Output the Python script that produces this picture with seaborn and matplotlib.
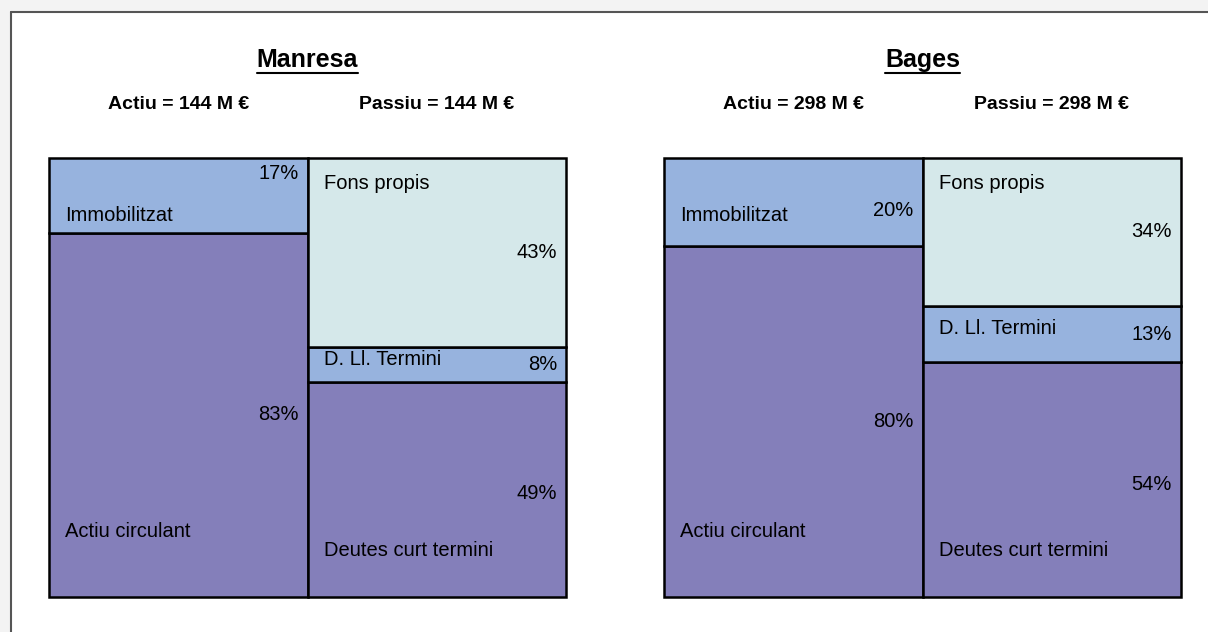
import numpy as np
import matplotlib
matplotlib.use("Agg")
import matplotlib.pyplot as plt
import seaborn as sns
from matplotlib.lines import Line2D
from matplotlib.patches import Rectangle

sns.set_style("white")
plt.rcParams['font.family'] = ['Liberation Sans', 'DejaVu Sans']
plt.rcParams['text.color'] = 'black'

# data (percent of balance)
regions = ["Manresa", "Bages"]
totals = [144, 298]
immobilitzat = [17, 20]
actiu_circulant = [83, 80]
fons_propis = [43, 34]
deutes_llarg = [8, 13]
deutes_curt = [49, 54]
sides = ["Actiu", "Passiu"]

c_purple = "#847FBA"
c_blue = "#97B3DE"
c_pale = "#D5E8EA"

W, H = 1208, 632
fig = plt.figure(figsize=(W / 100, H / 100), dpi=100)

# outer frame like the spreadsheet snapshot
fig.patches.append(Rectangle((0, 1 - 12 / H), 1, 12 / H, transform=fig.transFigure,
                             facecolor="#F3F3F3", edgecolor="none", zorder=0))
fig.patches.append(Rectangle((0, 0), 11 / W, 1, transform=fig.transFigure,
                             facecolor="#F3F3F3", edgecolor="none", zorder=0))
fig.lines.append(Line2D([11 / W, 1], [1 - 12 / H, 1 - 12 / H], transform=fig.transFigure,
                        color="#555555", lw=1.5))
fig.lines.append(Line2D([11 / W, 11 / W], [0, 1 - 12 / H], transform=fig.transFigure,
                        color="#555555", lw=1.5))

lefts = [49, 664]
titles = []
for i, reg in enumerate(regions):
    ax = fig.add_axes([lefts[i] / W, 1 - 597 / H, 517 / W, 439 / H])
    ax.set_xlim(0, 2)
    ax.set_ylim(0, 100)
    ax.axis("off")

    # rounded percentages don't always add to 100, scale each column to full height
    ka = 100 / (actiu_circulant[i] + immobilitzat[i])
    kp = 100 / (deutes_curt[i] + deutes_llarg[i] + fons_propis[i])
    ac, im = actiu_circulant[i] * ka, immobilitzat[i] * ka
    dc, dl, fp = deutes_curt[i] * kp, deutes_llarg[i] * kp, fons_propis[i] * kp

    kw = dict(width=1, edgecolor="black", linewidth=1.8, clip_on=False)
    ax.bar(0.5, ac, color=c_purple, **kw)
    ax.bar(0.5, im, bottom=ac, color=c_blue, **kw)
    ax.bar(1.5, dc, color=c_purple, **kw)
    ax.bar(1.5, dl, bottom=dc, color=c_blue, **kw)
    ax.bar(1.5, fp, bottom=dc + dl, color=c_pale, **kw)

    fs = 14.5
    pct = [
        (1.0, ac + im / 2 + (5 if i == 0 else -2), immobilitzat[i]),
        (1.0, ac / 2, actiu_circulant[i]),
        (2.0, dc + dl + fp / 2, fons_propis[i]),
        (2.0, dc + dl / 2, deutes_llarg[i]),
        (2.0, dc / 2 - 1, deutes_curt[i]),
    ]
    for xr, yv, v in pct:
        ax.text(xr - 0.035, yv, f"{v}%", ha="right", va="center", fontsize=fs)

    ax.text(0.062, 87.0, "Immobilitzat", ha="left", va="center", fontsize=fs)
    ax.text(0.062, 15.0, "Actiu circulant", ha="left", va="center", fontsize=fs)
    ax.text(1.062, 94.3, "Fons propis", ha="left", va="center", fontsize=fs)
    ax.text(1.062, dc + dl / 2 + 1.2, "D. Ll. Termini", ha="left", va="center", fontsize=fs)
    ax.text(1.062, 10.7, "Deutes curt termini", ha="left", va="center", fontsize=fs)

    for j, s in enumerate(sides):
        ax.text(0.5 + j, 100 * (597 - 104) / 439, f"{s} = {totals[i]} M €",
                ha="center", va="center", fontsize=14, fontweight="bold")
    t = ax.text(1.0, 100 * (597 - 60) / 439, reg, ha="center", va="center",
                fontsize=18, fontweight="bold")
    titles.append(t)

# underline the titles
fig.canvas.draw()
r = fig.canvas.get_renderer()
for t in titles:
    bb = t.get_window_extent(renderer=r)
    y = (bb.y0 - 1) / H
    fig.lines.append(Line2D([bb.x0 / W, bb.x1 / W], [y, y], transform=fig.transFigure,
                            color="black", lw=1.5))

fig.savefig("out.png", dpi=100)
